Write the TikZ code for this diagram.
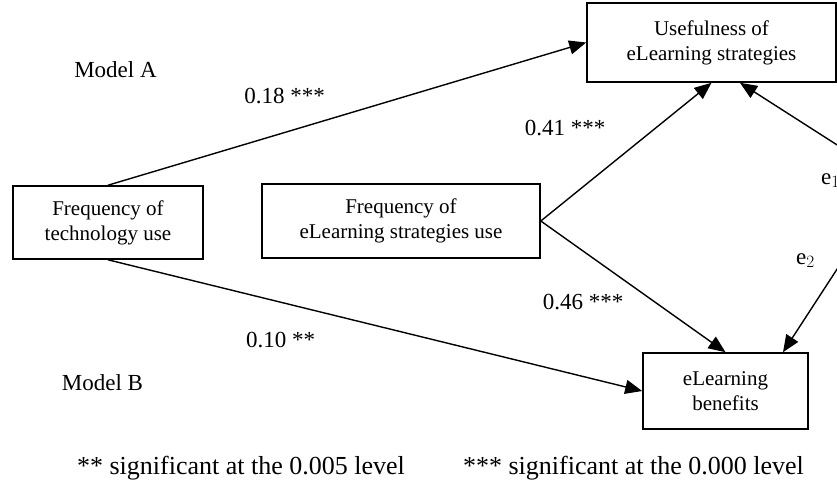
\documentclass[tikz,border=0pt]{standalone}
\usepackage{fontspec}
\setmainfont{Liberation Serif}
\usetikzlibrary{arrows.meta, positioning}

\begin{document}
\begin{tikzpicture}[
  x=1pt, y=-1pt,
  box/.style    = {rectangle, draw, line width=1.6pt, align=center, inner sep=0pt,
                   font=\fontsize{21}{25}\selectfont},
  arrow/.style  = {-{Triangle[length=17pt, width=14pt]}, line width=1.4pt},
  coef/.style   = {font=\fontsize{23}{26}\selectfont, anchor=base, inner sep=0pt},
  note/.style   = {font=\fontsize{26}{28}\selectfont, anchor=base, inner sep=0pt}
]

\useasboundingbox (0,0) rectangle (837,491);

% ── Variables ────────────────────────────────────────────────────────────────
\node[box, minimum width=190pt, minimum height=73pt]
  (tech) at (108,222.5) {Frequency of\\technology use};

\node[box, minimum width=278pt, minimum height=74pt]
  (freq) at (401,221) {Frequency of\\eLearning strategies use};

\node[box, minimum width=249pt, minimum height=79pt]
  (use) at (711.5,42.5) {Usefulness of\\eLearning strategies};

\node[box, minimum width=165pt, minimum height=76pt]
  (ben) at (725.5,391) {eLearning\\benefits};

% ── Error terms (right edge) ─────────────────────────────────────────────────
\node[coef, anchor=base west] (e1) at (821,184) {e$_1$};
\node[coef, anchor=base west] (e2) at (796,264) {e$_2$};
\coordinate (e1src) at (870,166);
\coordinate (e2src) at (856,240);

% ── Paths ────────────────────────────────────────────────────────────────────
\draw[arrow] (tech.north) -- (use.west);
\draw[arrow] (tech.south) -- (ben.west);
\draw[arrow] (freq.east) -- (use.south);
\draw[arrow] (freq.east) -- (ben.north);
\draw[arrow] (e1src) -- ([xshift=28.5pt]use.south);
\draw[arrow] (e2src) -- ([xshift=57.5pt]ben.north);

% ── Coefficients and model labels ────────────────────────────────────────────
\node[coef] (ma)  at (115.5,77)  {Model A};
\node[coef] (c18) at (284.5,103) {0.18 ***};
\node[coef] (c41) at (565,135)   {0.41 ***};
\node[coef] (c46) at (583,309)   {0.46 ***};
\node[coef] (c10) at (280.5,347) {0.10 **};
\node[coef] (mb)  at (102.5,390) {Model B};

% ── Significance notes ───────────────────────────────────────────────────────
\node[note] (n2) at (241,474)   {** significant at the 0.005 level};
\node[note] (n3) at (633.5,474) {*** significant at the 0.000 level};

\end{tikzpicture}
\end{document}
